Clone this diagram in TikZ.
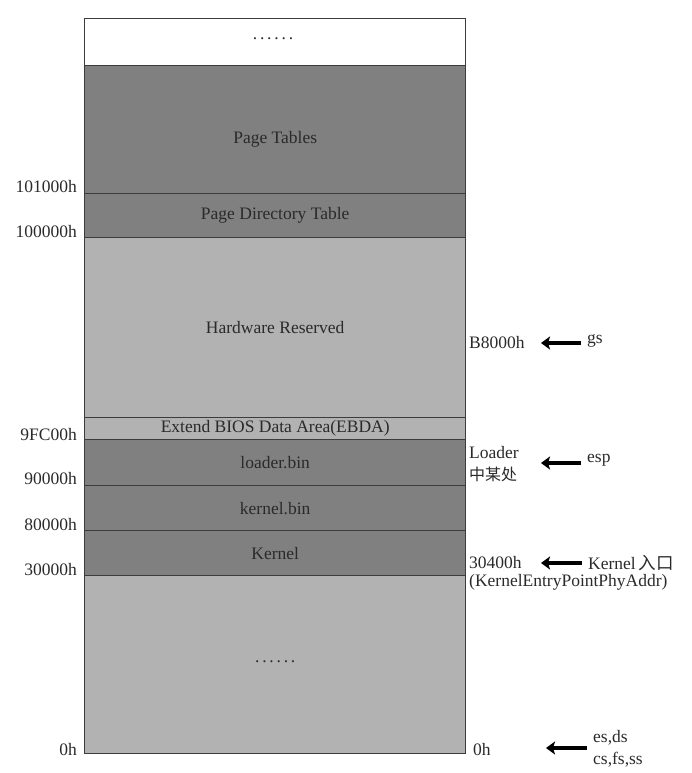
\documentclass[tikz,border=0pt]{standalone}
\usepackage{fontspec}
\setmainfont{Liberation Serif}
\newfontfamily\cjk{Noto Sans CJK SC}
\usetikzlibrary{arrows.meta}
\definecolor{darkregion}{HTML}{808080}
\definecolor{lightregion}{HTML}{B2B2B2}
\definecolor{edge}{HTML}{3C3C3C}
\definecolor{inktext}{HTML}{2A2A2A}
% six spaced dots marking an unlisted stretch of memory
\newcommand{\memdots}{.\hspace{2.8pt}.\hspace{2.8pt}.\hspace{2.8pt}.\hspace{2.8pt}.\hspace{2.8pt}.}
\begin{document}
\begin{tikzpicture}[x=1pt,y=-1pt,
  region/.style={draw=edge,line width=1.4pt,minimum width=381pt,inner sep=0pt,anchor=north west,font=\fontsize{17.5}{19}\selectfont,text=inktext},
  dark/.style={region,fill=darkregion},
  light/.style={region,fill=lightregion},
  addr/.style={font=\fontsize{17.5}{19}\selectfont,text=inktext,inner sep=0pt},
  regarrow/.style={line width=3.2pt,-{Stealth[length=9pt,width=13pt,inset=2pt]}}]
\useasboundingbox (0,0) rectangle (692,773);
% memory regions, top to bottom
\node[region,fill=white,minimum height=47pt] (top) at (84,18) {};
\node[addr] (topdots) at (273,39) {\memdots};
\node[dark,minimum height=128pt,label={[addr,yshift=-10pt]center:Page Tables}] (pt) at (84,65) {};
\node[dark,minimum height=44pt] (pdt) at (84,193) {Page Directory Table};
\node[light,minimum height=180pt] (hw) at (84,237) {Hardware Reserved};
\node[light,minimum height=22pt] (ebda) at (84,417) {Extend BIOS Data Area(EBDA)};
\node[dark,minimum height=46pt] (ldr) at (84,439) {loader.bin};
\node[dark,minimum height=45pt] (kbin) at (84,485) {kernel.bin};
\node[dark,minimum height=45pt] (kern) at (84,530) {Kernel};
\node[light,minimum height=178pt,label={[addr,yshift=3pt]center:\memdots}] (low) at (84,575) {};
% addresses on the left
\node[addr,anchor=east] (a101) at (77,187) {101000h};
\node[addr,anchor=east] (a100) at (77,232) {100000h};
\node[addr,anchor=east] (a9fc) at (77,435) {9FC00h};
\node[addr,anchor=east] (a90) at (77,479) {90000h};
\node[addr,anchor=east] (a80) at (77,525) {80000h};
\node[addr,anchor=east] (a30) at (77,570) {30000h};
\node[addr,anchor=east] (a0) at (77,750) {0h};
% addresses on the right
\node[addr,anchor=west] (b8) at (469,343) {B8000h};
\node[addr,anchor=west] (ldrpos) at (469,453) {Loader};
\node[addr,anchor=west,font=\cjk\fontsize{16}{18}\selectfont] (ldrpos2) at (469,474) {中某处};
\node[addr,anchor=west] (entry) at (469,563) {30400h};
\node[addr,anchor=west] (entryname) at (469,582) {(KernelEntryPointPhyAddr)};
\node[addr,anchor=west] (zero) at (473,750) {0h};
% segment registers and pointers
\node[addr,anchor=west] (gs) at (587,341) {gs};
\node[addr,anchor=west] (esp) at (587,460) {esp};
\node[addr,anchor=west] (kentry) at (588,563) {Kernel\,{\cjk 入口}};
\node[addr,anchor=west] (segs1) at (593,738) {es,ds};
\node[addr,anchor=west] (segs2) at (593,760) {cs,fs,ss};
% arrows
\coordinate (t1) at (581,343); \coordinate (h1) at (541,343);
\coordinate (t2) at (581,463); \coordinate (h2) at (541,463);
\coordinate (t3) at (582,563); \coordinate (h3) at (541,563);
\coordinate (t4) at (587,748); \coordinate (h4) at (546,748);
\draw[regarrow] (t1) -- (h1);
\draw[regarrow] (t2) -- (h2);
\draw[regarrow] (t3) -- (h3);
\draw[regarrow] (t4) -- (h4);
\end{tikzpicture}
\end{document}
